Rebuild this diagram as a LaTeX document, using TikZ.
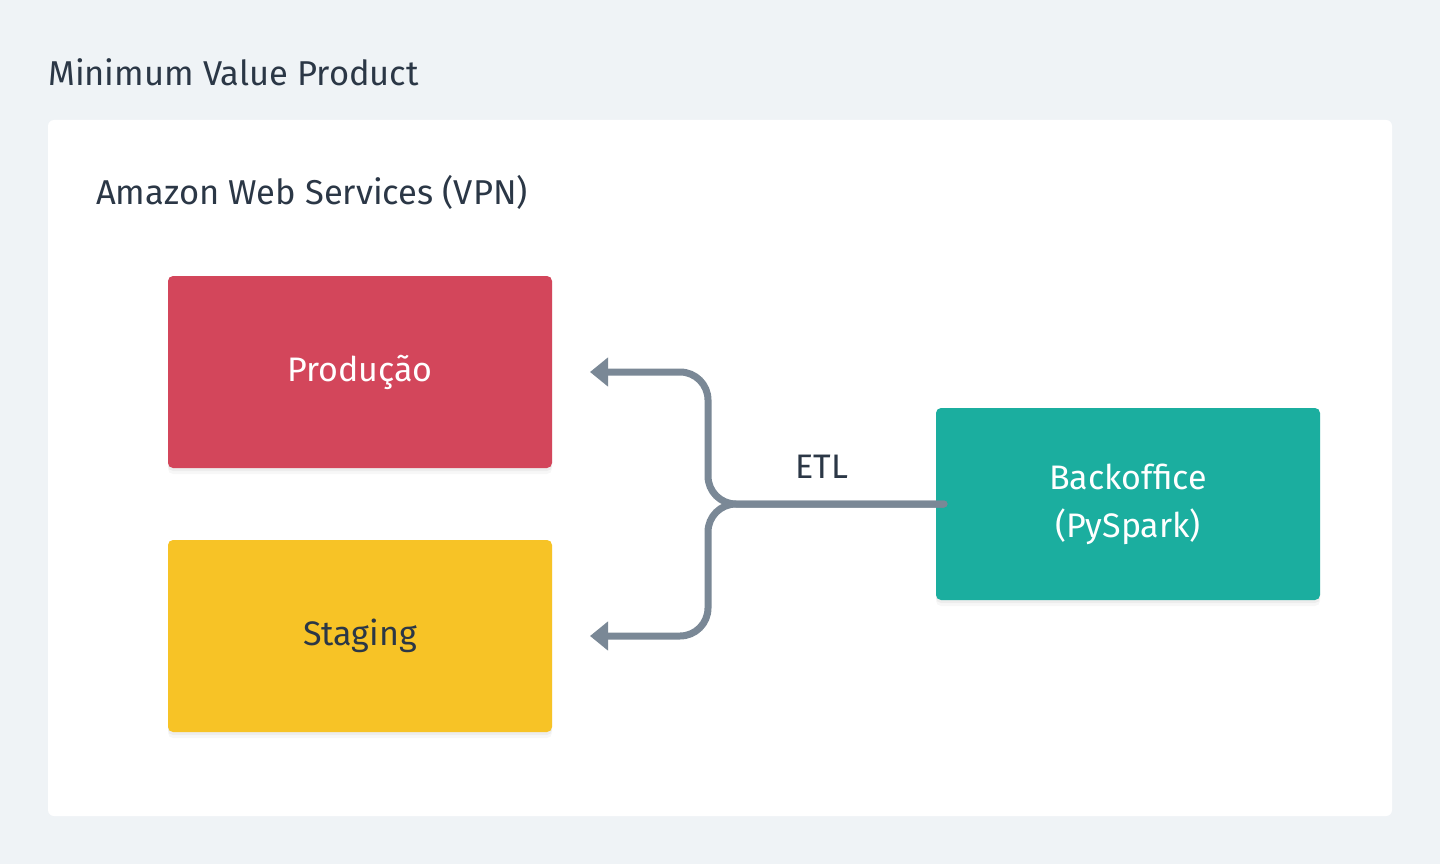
\documentclass[tikz,border=0pt]{standalone}
\usepackage{fontspec}
\setmainfont{Fira Sans}
\usetikzlibrary{arrows.meta}
\definecolor{bgc}{RGB}{239,243,246}
\definecolor{redc}{RGB}{211,70,91}
\definecolor{yelc}{RGB}{247,195,38}
\definecolor{tealc}{RGB}{27,174,159}
\definecolor{linec}{RGB}{122,136,150}
\definecolor{txtc}{RGB}{43,55,70}
\tikzset{
  box/.style={rounded corners=5pt, minimum width=384pt, minimum height=192pt, inner sep=0pt,
    preaction={fill=black, fill opacity=0.03, transform canvas={yshift=-6pt}},
    preaction={fill=black, fill opacity=0.04, transform canvas={yshift=-3pt}},
    font=\fontsize{34}{48}\selectfont, align=center},
  conn/.style={draw=linec, line width=7pt, rounded corners=28pt, line cap=round,
    -{Triangle[length=18pt,width=28pt]}},
  lbl/.style={text=txtc, inner sep=0pt, anchor=west, font=\fontsize{34.5}{40}\selectfont}
}
\begin{document}
\begin{tikzpicture}[x=1pt,y=-1pt]
\useasboundingbox (0,0) rectangle (1440,864);
\fill[bgc] (0,0) rectangle (1440,864);
\fill[white, rounded corners=6pt] (48,120) rectangle (1392,816);
\node[lbl] (title) at (48,72) {Minimum Value Product};
\node[lbl] (aws) at (96,192) {Amazon Web Services (VPN)};
\node[box, fill=redc, text=white] (prod) at (360,372) {Produção};
\node[box, fill=yelc, text=txtc] (stag) at (360,636) {Staging};
\node[box, fill=tealc, text=white] (bo) at (1128,504) {Backoffice\\(PySpark)};
\coordinate (j) at (708,504);
\coordinate (bs) at (944,504);
\coordinate (pt) at (590,372);
\coordinate (st) at (590,636);
\draw[conn] (bs) -- (j) -- (j |- pt) -- (pt);
\draw[conn] (bs) -- (j) -- (j |- st) -- (st);
\node[text=txtc, font=\fontsize{34}{40}\selectfont, inner sep=0pt] (etl) at (822,467) {ETL};
\end{tikzpicture}
\end{document}
